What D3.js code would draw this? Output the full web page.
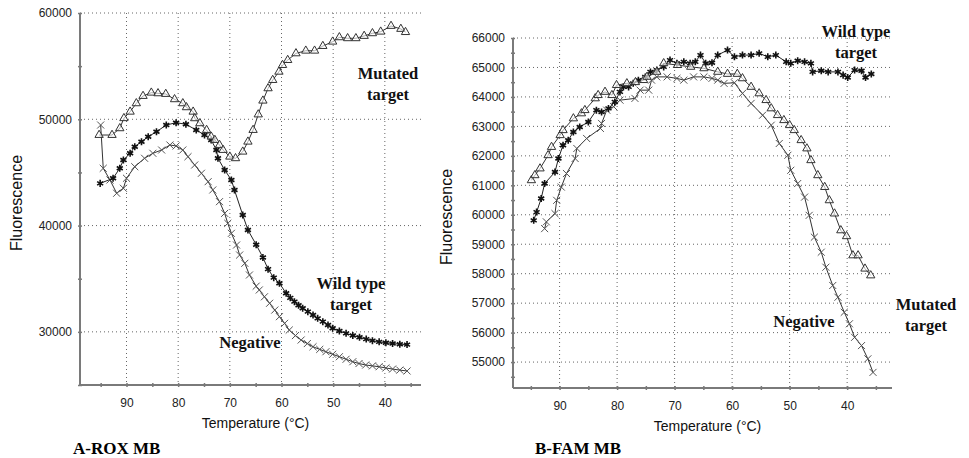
<html>
<head>
<meta charset="utf-8">
<style>
  body { margin: 0; background: #fff; }
  svg text { font-family: Arial, "Liberation Sans", sans-serif; }
</style>
</head>
<body>
<script src="https://d3js.org/d3.v7.min.js"></script>
<div id="chart"></div>
<script>
// ---- data: [temperature, fluorescence] ----
var roxMutated = [[95.3,48520],[92.8,48520],[91.3,49150],[90.5,50100],[89.3,50710],[88.1,51500],[86.8,52190],
  [85.2,52500],[83.9,52440],[82.4,52380],[80.7,51880],[79.1,51500],[78.4,51125],[77.1,50710],[76.8,50090],
  [75.8,49620],[74.5,48990],[73.6,48360],[72.9,48050],[72.0,47580],[71.3,47110],[70.0,46480],[68.9,46330],
  [67.5,46950],[66.5,47890],[65.5,48990],[64.5,50450],[63.6,51750],[62.6,52910],[61.7,53690],[60.5,54470],
  [59.8,55100],[58.8,55570],[57.2,56200],[55.3,56450],[53.6,56450],[52.0,56890],[50.1,57300],[48.8,57710],
  [47.2,57620],[45.6,57620],[44.0,57840],[42.4,58090],[40.8,58240],[38.8,58780],[36.9,58500],[36.0,58200]];
var roxWild = [[95.1,43970],[92.6,44450],[91.3,45390],[90.6,46170],[89.3,46800],[88.4,47420],[87.1,47890],
  [85.8,48360],[84.2,48830],[82.3,49460],[80.4,49680],[78.5,49530],[76.5,48990],[74.9,48520],[73.6,48050],
  [72.6,47110],[72.3,46330],[71.0,45230],[69.7,44290],[69.1,43350],[67.5,40990],[66.5,39580],[64.9,38200],
  [63.6,37000],[62.6,35900],[61.5,35100],[60.4,34570],[59.1,33630],[58.3,33200],[57.5,32840],[56.7,32500],
  [55.9,32220],[54.9,31900],[53.9,31590],[53.0,31270],[52.0,30960],[51.0,30640],[50.1,30340],[48.8,30080],
  [47.5,29860],[46.2,29660],[44.9,29490],[43.6,29320],[42.4,29170],[41.1,29060],[39.8,28980],[38.5,28900],
  [37.1,28840],[35.7,28800]];
var roxNegative = [[95.0,49460],[94.5,45390],[93.2,44290],[91.9,43040],[90.6,43510],[90.0,44450],[88.4,45540],
  [86.5,46330],[84.9,46800],[83.2,47110],[81.6,47580],[80.4,47490],[79.1,47110],[78.1,46480],[76.8,45700],
  [75.5,44920],[74.2,44130],[73.3,43350],[72.0,42250],[71.0,41150],[70.4,40210],[69.7,39270],[68.7,38170],
  [68.1,37230],[67.1,36450],[66.2,35350],[64.9,34300],[64.3,33940],[63.3,33300],[62.3,32690],[61.3,32050],
  [60.4,31430],[59.4,30800],[58.5,30170],[57.3,29650],[56.2,29230],[55.0,28900],[53.9,28600],[52.6,28350],
  [51.4,28130],[50.1,27890],[48.8,27660],[47.5,27420],[46.2,27190],[45.0,27020],[43.7,26880],[42.4,26800],
  [41.1,26720],[39.8,26600],[38.5,26500],[37.1,26400],[35.7,26320]];

var famMutated = [[94.9,61170],[94.3,61340],[93.4,61570],[92.0,62020],[91.4,62300],[89.9,62700],[89.4,62870],
  [87.6,63270],[86.2,63440],[85.6,63550],[83.8,63950],[83.3,64060],[82.1,64170],[80.9,64060],[80.1,64400],
  [78.3,64460],[76.8,64500],[75.4,64570],[74.8,64680],[73.1,64850],[71.9,65140],[69.5,65080],[67.2,65020],
  [64.9,64970],[62.5,64850],[60.8,64780],[59.1,64780],[58.2,64630],[56.7,64340],[55.3,64120],[54.1,63890],
  [53.2,63610],[52.1,63380],[51.0,63210],[50.0,63040],[49.2,62870],[48.0,62530],[47.0,62250],[46.3,61850],
  [45.1,61340],[43.9,60940],[43.1,60490],[42.2,60040],[41.1,59470],[40.1,59270],[39.0,58620],[38.1,58620],
  [36.9,58170],[35.9,57940]];
var famWild = [[94.5,59810],[94.0,60090],[93.2,60550],[92.6,61060],[90.8,61450],[90.2,61910],[89.4,62360],
  [88.5,62530],[87.6,62810],[86.5,62980],[85.0,63150],[83.6,63550],[82.7,63490],[81.5,63610],[80.4,63830],
  [79.5,64170],[78.9,64340],[78.0,64340],[77.2,64460],[76.3,64570],[75.1,64680],[74.2,64850],[73.1,64910],
  [71.9,65020],[70.8,65250],[69.6,65140],[68.4,65190],[67.3,65140],[66.4,65190],[65.5,65420],[64.6,65140],
  [63.5,65160],[62.5,65420],[60.8,65590],[59.6,65360],[58.2,65420],[56.7,65420],[55.3,65480],[53.8,65360],
  [52.4,65420],[50.6,65190],[49.8,65140],[48.6,65230],[47.4,65190],[46.3,65140],[46.0,64850],[44.5,64890],
  [43.3,64850],[41.6,64850],[40.7,64740],[39.9,64660],[38.7,64910],[37.5,64890],[36.8,64660],[35.8,64780]];
var famNegative = [[92.6,59530],[92.3,59760],[90.8,60040],[90.5,60490],[89.7,60940],[88.8,61400],[87.3,61910],
  [87.0,62250],[85.3,62590],[82.9,62930],[82.7,63100],[81.8,63550],[80.6,63670],[79.5,63890],[76.9,63950],
  [76.0,64230],[74.5,64230],[74.0,64570],[73.1,64680],[71.3,64680],[69.6,64630],[68.4,64570],[66.7,64680],
  [64.9,64680],[63.5,64630],[62.5,64570],[61.4,64460],[59.6,64480],[58.2,64120],[56.7,63780],[54.7,63380],
  [53.2,63040],[51.8,62420],[50.3,62020],[49.8,61510],[48.6,61060],[47.4,60600],[46.6,59980],[45.7,59240],
  [44.5,58730],[43.7,58220],[42.5,57600],[41.6,57200],[40.5,56690],[39.6,56300],[38.7,55840],[37.5,55560],
  [36.4,55110],[35.5,54650]];

var xTicks = [90, 80, 70, 60, 50, 40];
var xMinorTicks = [95, 85, 75, 65, 55, 45, 35];
var roxYTicks = [30000, 40000, 50000, 60000];
var roxYMinor = [25000, 35000, 45000, 55000];
var famYTicks = [55000, 56000, 57000, 58000, 59000, 60000, 61000, 62000, 63000, 64000, 65000, 66000];
var famYMinor = [54500, 55500, 56500, 57500, 58500, 59500, 60500, 61500, 62500, 63500, 64500, 65500];

var W = 969, H = 458;
var svg = d3.select("#chart").append("svg").attr("width", W).attr("height", H);

var panels = [
  { x0: 80, x1: 421, y0: 13, y1: 385, tDomain: [99, 33], vDomain: [25000, 60000],
    ticks: roxYTicks, minor: roxYMinor, yTitleX: 22, title: "A-ROX MB", titleX: 73,
    series: { mutated: roxMutated, wild: roxWild, negative: roxNegative },
    notes: [
      { lines: ["Mutated", "target"], x: 388, y: 79 },
      { lines: ["Wild type", "target"], x: 351, y: 289 },
      { lines: ["Negative"], x: 250, y: 348 } ] },
  { x0: 513, x1: 892, y0: 38, y1: 388, tDomain: [98.1, 32.2], vDomain: [54120, 66000],
    ticks: famYTicks, minor: famYMinor, yTitleX: 452, title: "B-FAM MB", titleX: 535,
    series: { mutated: famMutated, wild: famWild, negative: famNegative },
    notes: [
      { lines: ["Wild type", "target"], x: 856, y: 37 },
      { lines: ["Mutated", "target"], x: 926, y: 310 },
      { lines: ["Negative"], x: 804, y: 327 } ] }
];

panels.forEach(function(p) {
  var x = d3.scaleLinear().domain(p.tDomain).range([p.x0, p.x1]);
  var y = d3.scaleLinear().domain(p.vDomain).range([p.y1, p.y0]);
  var g = svg.append("g");

  // dotted grid
  g.selectAll(".hgrid").data(p.ticks).enter().append("line")
    .attr("x1", p.x0).attr("x2", p.x1)
    .attr("y1", function(d) { return y(d); }).attr("y2", function(d) { return y(d); })
    .attr("stroke", "#666").attr("stroke-dasharray", "1,3");
  g.selectAll(".vgrid").data(xTicks).enter().append("line")
    .attr("x1", function(d) { return x(d); }).attr("x2", function(d) { return x(d); })
    .attr("y1", p.y0).attr("y2", p.y1)
    .attr("stroke", "#666").attr("stroke-dasharray", "1,3");

  // axes
  var ax = g.append("g").attr("transform", "translate(0," + p.y1 + ")")
    .call(d3.axisBottom(x).tickValues(xTicks).tickSize(4).tickPadding(9));
  ax.append("g").call(d3.axisBottom(x).tickValues(xMinorTicks).tickSize(4).tickFormat(""));
  var ay = g.append("g").attr("transform", "translate(" + p.x0 + ",0)")
    .call(d3.axisLeft(y).tickValues(p.ticks).tickSize(4).tickPadding(4).tickFormat(d3.format("d")));
  ay.append("g").call(d3.axisLeft(y).tickValues(p.minor).tickSize(4).tickFormat(""));
  [ax, ay].forEach(function(a) {
    a.selectAll("path.domain").attr("stroke", "#7a7a7a").attr("stroke-width", 2);
    a.selectAll(".tick line").attr("stroke", "#7a7a7a").attr("stroke-width", 1.5)
      .attr("transform", function() { return a === ax ? "translate(0,-2)" : "translate(2,0)"; });
    a.selectAll("text").attr("fill", "#222").style("font-size", "12px")
      .style("font-family", "Arial, 'Liberation Sans', sans-serif");
  });
  ay.selectAll("path.domain").attr("d", "M0," + p.y1 + "V" + p.y0);
  ax.selectAll("path.domain").attr("d", "M" + p.x0 + ",0H" + p.x1);

  g.append("text").attr("x", (p.x0 + p.x1) / 2 + 5).attr("y", p.y1 + 43)
    .attr("text-anchor", "middle").style("font-size", "14px").attr("fill", "#111")
    .text("Temperature (°C)");
  g.append("text").attr("transform", "translate(" + p.yTitleX + "," + ((p.y0 + p.y1) / 2 + 4) + ")rotate(-90)")
    .attr("text-anchor", "middle").style("font-size", "16px").attr("fill", "#111")
    .text("Fluorescence");
  g.append("text").attr("x", p.titleX).attr("y", 454)
    .style("font-family", "'Liberation Serif', 'Times New Roman', serif")
    .style("font-weight", "bold").style("font-size", "17px").text(p.title);

  var line = d3.line().x(function(d) { return x(d[0]); }).y(function(d) { return y(d[1]); });

  // negative (x marks)
  g.append("path").datum(p.series.negative).attr("d", line)
    .attr("fill", "none").attr("stroke", "#333").attr("stroke-width", 1);
  g.selectAll(".neg").data(p.series.negative).enter().append("path")
    .attr("transform", function(d) { return "translate(" + x(d[0]) + "," + y(d[1]) + ")"; })
    .attr("d", d3.symbol(d3.symbolTimes, 34))
    .attr("fill", "none").attr("stroke", "#555").attr("stroke-width", 1);

  // wild type (asterisks)
  g.append("path").datum(p.series.wild).attr("d", line)
    .attr("fill", "none").attr("stroke", "#222").attr("stroke-width", 1);
  g.selectAll(".wild").data(p.series.wild).enter().append("path")
    .attr("transform", function(d) { return "translate(" + x(d[0]) + "," + y(d[1]) + ")"; })
    .attr("d", d3.symbol(d3.symbolAsterisk, 34))
    .attr("fill", "none").attr("stroke", "#111").attr("stroke-width", 1.6);

  // mutated (open triangles)
  g.append("path").datum(p.series.mutated).attr("d", line)
    .attr("fill", "none").attr("stroke", "#333").attr("stroke-width", 1);
  g.selectAll(".mut").data(p.series.mutated).enter().append("path")
    .attr("transform", function(d) { return "translate(" + x(d[0]) + "," + y(d[1]) + ")"; })
    .attr("d", d3.symbol(d3.symbolTriangle, 30))
    .attr("fill", "#fff").attr("fill-opacity", 0.6).attr("stroke", "#333").attr("stroke-width", 1);

  // annotations
  p.notes.forEach(function(n) {
    var t = g.append("text").attr("text-anchor", "middle")
      .style("font-family", "'Liberation Serif', 'Times New Roman', serif")
      .style("font-weight", "bold").style("font-size", "16.5px").attr("fill", "#111");
    n.lines.forEach(function(s, i) {
      t.append("tspan").attr("x", n.x).attr("y", n.y + i * 21).text(s);
    });
  });
});
</script>
</body>
</html>
